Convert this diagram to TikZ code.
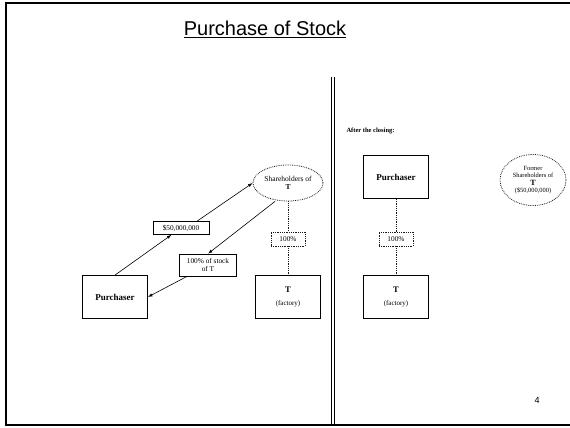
\documentclass[tikz,border=0pt]{standalone}
\usepackage{fontspec}
\setmainfont{Liberation Serif}
\newfontfamily\slidefont{Liberation Sans}
\usetikzlibrary{arrows.meta, positioning, shapes.geometric, calc}
\definecolor{mDot}{HTML}{1A1A1A}
\tikzset{
  ebox/.style={draw, line width=0.8pt, minimum width=65pt, minimum height=43pt,
               inner sep=0pt, align=center},
  lbox/.style={draw, line width=0.6pt, inner sep=1.5pt, align=center,
               font=\fontsize{7.3}{8}\selectfont},
  pctbox/.style={draw=mDot, densely dotted, line width=0.8pt, minimum width=34pt,
                 minimum height=14pt, inner sep=0pt, font=\fontsize{7.3}{8}\selectfont},
  shold/.style={draw=mDot, ellipse, densely dotted, line width=0.8pt, inner sep=0pt,
                align=center},
  flow/.style={line width=0.6pt, -{Latex[length=4.5pt, width=3.2pt]}},
  own/.style={mDot, densely dotted, line width=0.8pt},
}

\begin{document}
\begin{tikzpicture}[x=1pt, y=-1pt]
    \useasboundingbox (0,0) rectangle (570,428);
    % slide frame and divider
    \draw[line width=2.4pt] (572,3) -- (6,3) -- (6,425) -- (572,425);
    \draw[line width=0.8pt] (331.5,77) -- (331.5,425);
    \draw[line width=0.8pt] (334.5,77) -- (334.5,425);
    \node[anchor=base, font=\slidefont\fontsize{20}{22}\selectfont] (title) at (265,36)
      {\underline{Purchase of Stock}};
    \node[font=\slidefont\fontsize{9}{10}\selectfont] (pgno) at (537,400) {4};

    % before the closing
    \node[ebox, font=\fontsize{9}{10}\selectfont\bfseries] (pur) at (115,297) {Purchaser};
    \node[ebox] (tgt) at (288,297) {\fontsize{8.5}{9}\selectfont\textbf{T}\\[1pt]
      \fontsize{7}{8}\selectfont(factory)};
    \node[shold, minimum width=70pt, minimum height=36pt,
          font=\fontsize{7.5}{8.5}\selectfont] (sh) at (288,183)
      {Shareholders of\\\textbf{T}};
    \node[pctbox] (pct) at (288,239) {100\%};
    \node[lbox, minimum width=56pt, minimum height=13pt] (cash) at (181,228) {\$50,000,000};
    \node[lbox, minimum width=57pt, minimum height=22pt] (stk) at (208,265)
      {100\% of stock\\of T};
    \draw[flow] (pur.north) -- (cash);
    \draw[flow] ([xshift=16pt]cash.north) -- (sh.west);
    \draw[flow] ([xshift=-13pt]sh.south) -- (stk.north);
    \draw[flow] ([xshift=8pt]stk.south west) -- (pur.east);
    \draw[own] (sh) -- (pct) -- (tgt);

    % after the closing
    \node[anchor=base west, font=\fontsize{6.5}{7}\selectfont\bfseries] (after) at (343,132)
      {After the closing:};
    \node[ebox, font=\fontsize{9}{10}\selectfont\bfseries] (pur2) at (396,177) {Purchaser};
    \node[pctbox] (pct2) at (396,239) {100\%};
    \node[ebox] (tgt2) at (396,297) {\fontsize{8.5}{9}\selectfont\textbf{T}\\[1pt]
      \fontsize{7}{8}\selectfont(factory)};
    \node[shold, minimum width=66pt, minimum height=51pt,
          font=\fontsize{6.4}{7.4}\selectfont] (fsh) at (533,180)
      {Former\\Shareholders of\\{\fontsize{8}{8.5}\selectfont\textbf{T}}\\(\$50,000,000)};
    \draw[own] (pur2) -- (pct2) -- (tgt2);
\end{tikzpicture}
\end{document}
